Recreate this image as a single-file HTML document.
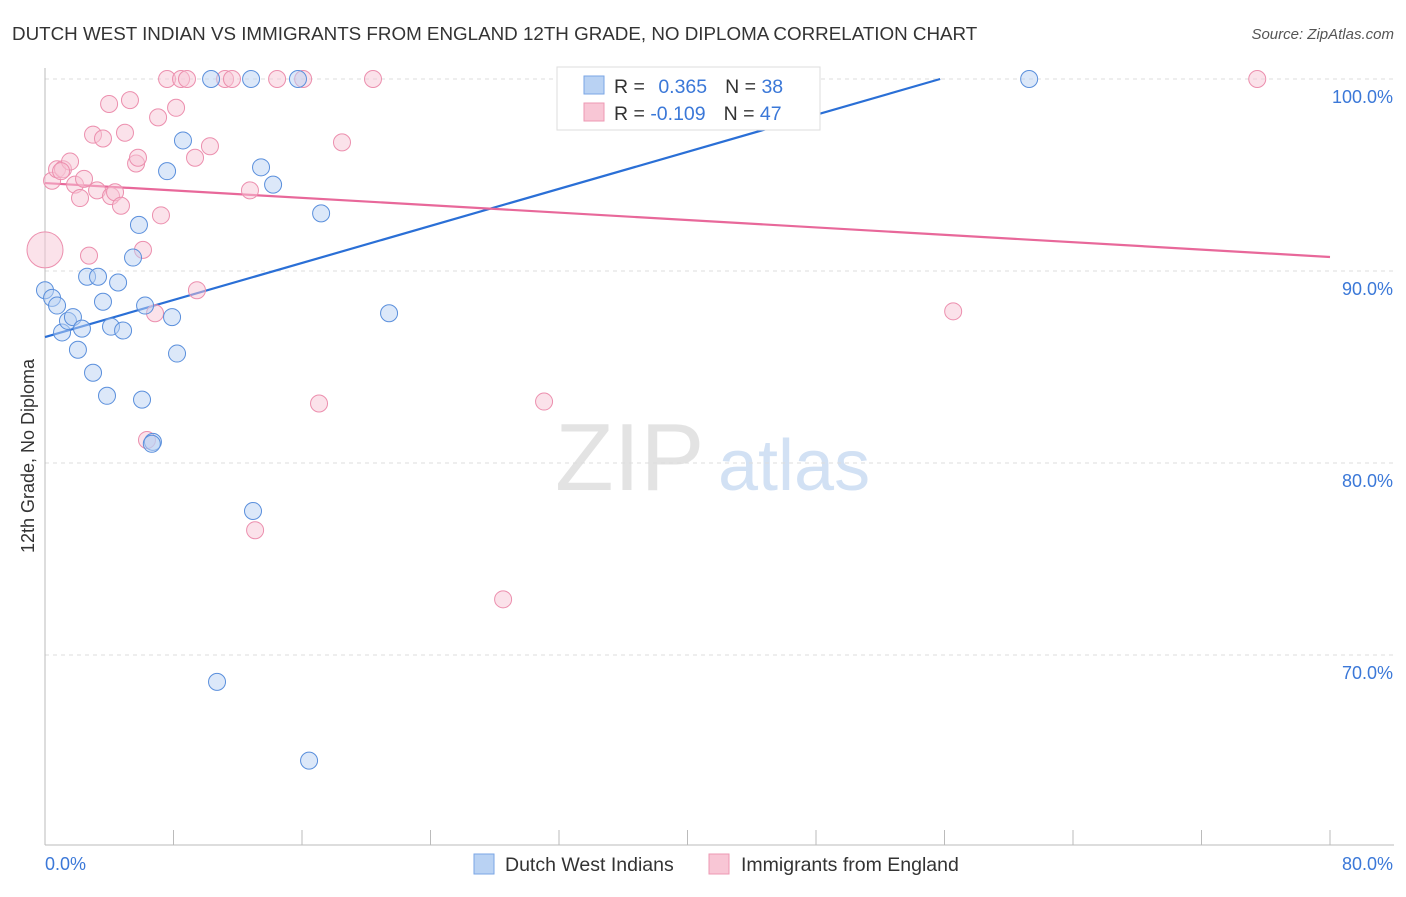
<!DOCTYPE html>
<html><head><meta charset="utf-8"><style>
body{margin:0;background:#fff;font-family:"Liberation Sans",sans-serif;}
svg text{font-family:"Liberation Sans",sans-serif;}
</style></head><body>
<svg id="chart" width="1406" height="892" viewBox="0 0 1406 892" xmlns="http://www.w3.org/2000/svg">
<text x="12" y="40" font-size="18.8" fill="#333">DUTCH WEST INDIAN VS IMMIGRANTS FROM ENGLAND 12TH GRADE, NO DIPLOMA CORRELATION CHART</text>
<text x="1394" y="39" font-size="15" fill="#555" text-anchor="end" font-style="italic">Source: ZipAtlas.com</text>
<text x="555" y="490" font-size="96" fill="#ddd" font-family="Liberation Serif" opacity="0.8">ZIP</text>
<text x="718" y="490" font-size="72" fill="#c8daf2" opacity="0.8">atlas</text>
<g id="grid"></g><g id="axes"></g><g id="lines"></g><g id="pts"></g>
<text transform="translate(34,456) rotate(-90)" font-size="18" fill="#333" text-anchor="middle">12th Grade, No Diploma</text>
<g>
<rect x="557" y="67" width="263" height="63" fill="#fff" stroke="#ddd"/>
<rect x="584" y="76" width="20" height="18" fill="#b9d2f3" stroke="#7aa6e6"/>
<rect x="584" y="103" width="20" height="18" fill="#f8c6d5" stroke="#ee98b3"/>
<text x="614" y="93" font-size="19.5" fill="#333">R = <tspan fill="#3b78d8" dx="8">0.365</tspan><tspan dx="18">N = </tspan><tspan fill="#3b78d8">38</tspan></text>
<text x="614" y="120" font-size="19.5" fill="#333">R = <tspan fill="#3b78d8">-0.109</tspan><tspan dx="18">N = </tspan><tspan fill="#3b78d8">47</tspan></text>
</g>
<g>
<rect x="474" y="854" width="20" height="20" fill="#b9d2f3" stroke="#7aa6e6"/>
<text x="505" y="871" font-size="19.5" fill="#333">Dutch West Indians</text>
<rect x="709" y="854" width="20" height="20" fill="#f8c6d5" stroke="#ee98b3"/>
<text x="741" y="871" font-size="19.5" fill="#333">Immigrants from England</text>
</g>
</svg>
<script>
const yTicks=[100,90,80,70];
const xTickLabels=["0.0%","80.0%"];
const blueX=[0,0.44,0.75,1.06,1.43,1.74,2.05,2.30,2.62,2.99,3.30,3.61,3.86,4.11,4.55,4.86,5.48,5.85,6.04,6.23,6.72,7.60,7.91,8.22,8.59,10.34,10.71,12.83,12.95,13.45,14.2,15.75,16.44,17.19,21.42,34.56,61.27,6.65];
const blueY=[89.0,88.6,88.2,86.8,87.4,87.6,85.9,87.0,89.7,84.7,89.7,88.4,83.5,87.1,89.4,86.9,90.7,92.4,83.3,88.2,81.1,95.2,87.6,85.7,96.8,100,68.6,100,77.5,95.4,94.5,100,64.5,93.0,87.8,100,100,81.0];
const pinkX=[0,0.44,0.75,1.12,1.56,1.87,2.18,2.43,2.74,2.99,3.24,3.61,3.99,4.11,4.36,4.73,4.98,5.29,5.67,5.79,6.10,6.35,6.85,7.04,7.22,7.60,8.16,8.47,8.84,9.34,9.46,10.27,11.21,11.64,12.76,13.08,14.45,16.07,17.06,18.49,20.42,28.52,31.07,33.0,56.54,75.47,1.0];
const pinkY=[91.1,94.7,95.3,95.3,95.7,94.5,93.8,94.8,90.8,97.1,94.2,96.9,98.7,93.9,94.1,93.4,97.2,98.9,95.6,95.9,91.1,81.2,87.8,98.0,92.9,100,98.5,100,100,95.9,89.0,96.5,100,100,94.2,76.5,100,100,83.1,96.7,100,72.9,83.2,100,87.9,100,95.2];
const blueTrend=[[0,86.56],[55.73,100]];
const pinkTrend=[[0,94.58],[80,90.73]];
const NS="http://www.w3.org/2000/svg";
const sx=v=>45+v*16.0625, sy=v=>79+(100-v)*19.2;
function mk(t,a,p){const e=document.createElementNS(NS,t);for(const k in a)e.setAttribute(k,a[k]);p.appendChild(e);return e;}
const grid=document.getElementById('grid'),axes=document.getElementById('axes'),lines=document.getElementById('lines'),pts=document.getElementById('pts');
yTicks.forEach(v=>{
 const l=mk('line',{x1:45,x2:1394,y1:sy(v),y2:sy(v),stroke:'#ddd','stroke-dasharray':'4,4'},grid);
 
 
 const t=mk('text',{x:1393,y:sy(v)+24,'font-size':18,fill:'#3b78d8','text-anchor':'end'},grid);
 t.textContent=v.toFixed(1)+'%';
 
 
});
mk('line',{x1:45,x2:45,y1:68,y2:845,stroke:'#bbb'},axes);
mk('line',{x1:45,x2:1394,y1:845,y2:845,stroke:'#bbb'},axes);
for(let i=0;i<=10;i++){const l=mk('line',{x1:sx(i*8),x2:sx(i*8),y1:830,y2:845,stroke:'#bbb'},axes);
 
 }
const t0=mk('text',{x:45,y:870,'font-size':18,fill:'#3b78d8'},axes);t0.textContent=xTickLabels[0];


const t1=mk('text',{x:1393,y:870,'font-size':18,fill:'#3b78d8','text-anchor':'end'},axes);t1.textContent=xTickLabels[1];


function dots(X,Y,fill,stroke,name){X.forEach((x,i)=>{const c=mk('circle',{cx:sx(x),cy:sy(Y[i]),r:(name==='england-point'&&i===0)?18:8.5,fill:fill,'fill-opacity':0.5,stroke:stroke,'stroke-width':1},pts);
 
 });}
dots(pinkX,pinkY,'#f8c6d5','#ec8fae','england-point');
dots(blueX,blueY,'#b9d2f3','#5a8fdc','dutch-point');
const bl=mk('line',{x1:sx(blueTrend[0][0]),y1:sy(blueTrend[0][1]),x2:sx(blueTrend[1][0]),y2:sy(blueTrend[1][1]),stroke:'#2a6fd6','stroke-width':2.2},lines);


const pl=mk('line',{x1:sx(pinkTrend[0][0]),y1:sy(pinkTrend[0][1]),x2:sx(pinkTrend[1][0]),y2:sy(pinkTrend[1][1]),stroke:'#e8689a','stroke-width':2.2},lines);


</script>
</body></html>
